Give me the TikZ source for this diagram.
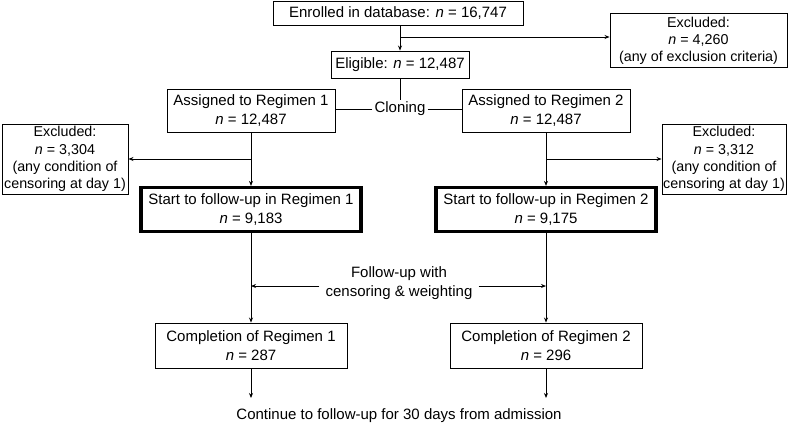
\documentclass[tikz,border=0pt]{standalone}
\usepackage{fontspec}
\setmainfont{Liberation Sans}
\usetikzlibrary{arrows.meta}
\begin{document}
\begin{tikzpicture}[x=1pt,y=-1pt,
  txt/.style={font=\fontsize{15}{18.5}\selectfont, align=center},
  smalltxt/.style={font=\fontsize{14.3}{17.2}\selectfont, align=center},
  box/.style={txt, draw, line width=0.9pt, inner sep=0pt},
  exbox/.style={box, smalltxt},
  thickbox/.style={box, line width=3.2pt},
  conn/.style={line width=0.9pt},
  arr/.style={conn, -{Stealth[length=5pt,width=4pt]}}]
\useasboundingbox (0,0) rectangle (791,426);
% nodes
\node[box, minimum width=250, minimum height=24] (enr) at (398,13) {Enrolled in database: \textit{n} = 16,747};
\node[exbox, minimum width=177, minimum height=54] (exT) at (698.5,40.5) {Excluded:\\\textit{n} = 4,260\\(any of exclusion criteria)};
\node[box, minimum width=138, minimum height=27] (elig) at (400,64.5) {Eligible: \textit{n} = 12,487};
\node[txt, inner sep=2pt] (clone) at (400,109) {Cloning};
\node[box, minimum width=168, minimum height=43] (a1) at (251,110.5) {Assigned to Regimen 1\\\textit{n} = 12,487};
\node[box, minimum width=168, minimum height=43] (a2) at (546,110.5) {Assigned to Regimen 2\\\textit{n} = 12,487};
\node[exbox, minimum width=126, minimum height=70] (exL) at (65,159) {Excluded:\\\textit{n} = 3,304\\(any condition of\\censoring at day 1)};
\node[exbox, minimum width=124, minimum height=70] (exR) at (724,159) {Excluded:\\\textit{n} = 3,312\\(any condition of\\censoring at day 1)};
\node[thickbox, minimum width=220, minimum height=44] (s1) at (251,209.5) {Start to follow-up in Regimen 1\\\textit{n} = 9,183};
\node[thickbox, minimum width=220, minimum height=44] (s2) at (546,209.5) {Start to follow-up in Regimen 2\\\textit{n} = 9,175};
\node[txt, inner sep=6pt] (fl) at (399,283) {Follow-up with\\censoring \& weighting};
\node[box, minimum width=192, minimum height=45] (c1) at (251,345.5) {Completion of Regimen 1\\\textit{n} = 287};
\node[box, minimum width=192, minimum height=45] (c2) at (546,345.5) {Completion of Regimen 2\\\textit{n} = 296};
\node[txt] (cont) at (399,416) {Continue to follow-up for 30 days from admission};
% coordinates
\coordinate (j0) at (400,37);
\coordinate (jL) at (251,159);
\coordinate (jR) at (546,159);
\coordinate (fL) at (251,286);
\coordinate (fR) at (546,286);
\coordinate (e1) at (251,398);
\coordinate (e2) at (546,398);
% connectors
\draw[arr] (elig.north |- enr.south) -- (elig.north);
\draw[arr] (j0) -- (exT.west |- j0);
\draw[conn] (elig.south) -- (clone.north);
\draw[conn] (clone.west) -- (a1.east |- clone.west);
\draw[conn] (clone.east) -- (a2.west |- clone.east);
\draw[arr] (a1.south) -- (s1.north);
\draw[arr] (a2.south) -- (s2.north);
\draw[arr] (jL) -- (exL.east);
\draw[arr] (jR) -- (exR.west);
\draw[arr] (s1.south) -- (c1.north);
\draw[arr] (s2.south) -- (c2.north);
\draw[arr] (fl.west |- fL) -- (fL);
\draw[arr] (fl.east |- fR) -- (fR);
\draw[arr] (c1.south) -- (e1);
\draw[arr] (c2.south) -- (e2);
\end{tikzpicture}
\end{document}
